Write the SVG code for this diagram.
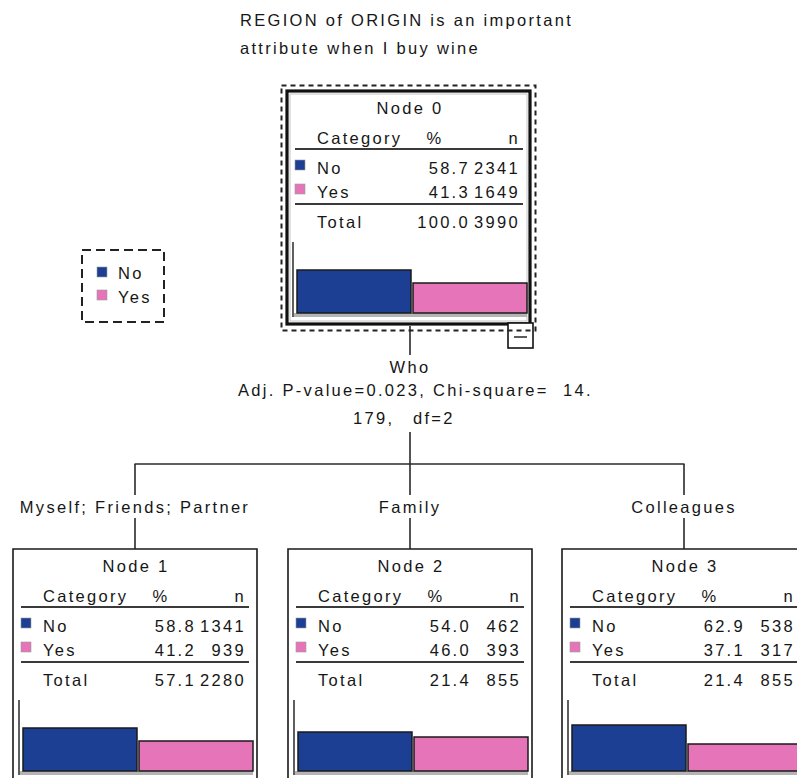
<svg xmlns="http://www.w3.org/2000/svg" width="797" height="778" viewBox="0 0 797 778">
  <style>
    text { font-family: "Liberation Sans", Arial, sans-serif; font-size: 16.5px; fill: #161616; letter-spacing: 2.3px; }
    .mid { text-anchor: middle; }
    .end { text-anchor: end; }
    .frame { fill: #ffffff; stroke: #1a1a1a; stroke-width: 1.6; }
    .rule { stroke: #3a3a3a; stroke-width: 2; }
    .axis { stroke: #2a2a2a; stroke-width: 1.5; }
    .shadow { fill: #b4b4b4; }
    .no { fill: #1c3f94; }
    .yes { fill: #e574b9; }
    .bar { stroke: #1a1a1a; stroke-width: 1.5; }
    .key { stroke: #9a9a9a; stroke-width: 0.6; }
    .conn { stroke: #2a2a2a; stroke-width: 1.6; fill: none; }
    .dash { fill: none; stroke: #222222; stroke-width: 2; stroke-dasharray: 5 4; }
  </style>

  <!-- target variable title -->
  <g id="title">
    <text x="240" y="26">REGION of ORIGIN is an important</text>
    <text x="240" y="54">attribute when I buy wine</text>
  </g>

  <!-- legend -->
  <g id="legend">
    <rect x="82" y="250" width="82" height="72" fill="none" stroke="#222" stroke-width="2" stroke-dasharray="9 5"/>
    <rect x="97" y="267" width="10" height="10" class="no key"/>
    <text x="118" y="279">No</text>
    <rect x="97" y="290" width="10" height="10" class="yes key"/>
    <text x="118" y="303">Yes</text>
  </g>

  <!-- connectors -->
  <g id="connectors">
    <line class="conn" x1="410" y1="326" x2="410" y2="355"/>
    <line class="conn" x1="410" y1="432" x2="410" y2="464"/>
    <line class="conn" x1="134.5" y1="464" x2="684.5" y2="464"/>
    <line class="conn" x1="135" y1="464" x2="135" y2="495"/>
    <line class="conn" x1="135" y1="518" x2="135" y2="549"/>
    <line class="conn" x1="410" y1="464" x2="410" y2="495"/>
    <line class="conn" x1="410" y1="518" x2="410" y2="549"/>
    <line class="conn" x1="684" y1="464" x2="684" y2="495"/>
    <line class="conn" x1="684" y1="518" x2="684" y2="549"/>
    <text x="410" y="373" class="mid">Who</text>
    <text x="238" y="396">Adj. P-value=0.023, Chi-square=</text>
    <text x="563" y="396">14.</text>
    <text x="353" y="424">179,</text>
    <text x="413" y="424">df=2</text>
    <text x="135" y="513" class="mid">Myself; Friends; Partner</text>
    <text x="410" y="513" class="mid">Family</text>
    <text x="684" y="513" class="mid">Colleagues</text>
  </g>

  <!-- root node (selected) -->
  <g id="node0" transform="translate(287,91)">
    <rect x="0" y="0" width="243" height="233" fill="#fff" stroke="#111" stroke-width="3.2"/>
    <rect x="3" y="3" width="237" height="227" fill="none" stroke="#c4c4c4" stroke-width="1"/>
    <text x="123" y="23" class="mid">Node 0</text>
    <text x="30" y="53">Category</text>
    <text x="148" y="53" class="mid">%</text>
    <text x="233" y="53" class="end">n</text>
    <line class="rule" x1="8" y1="58" x2="236" y2="58"/>
    <rect x="8" y="69" width="10" height="10" class="no key"/>
    <text x="30" y="83">No</text>
    <text x="183" y="83" class="end">58.7</text>
    <text x="233" y="83" class="end">2341</text>
    <rect x="8" y="93" width="10" height="10" class="yes key"/>
    <text x="30" y="107">Yes</text>
    <text x="183" y="107" class="end">41.3</text>
    <text x="233" y="107" class="end">1649</text>
    <line class="rule" x1="8" y1="113" x2="236" y2="113"/>
    <text x="30" y="137">Total</text>
    <text x="183" y="137" class="end">100.0</text>
    <text x="233" y="137" class="end">3990</text>
    <rect x="7" y="222" width="233" height="4" class="shadow"/>
    <line class="axis" x1="6" y1="151" x2="6" y2="226"/>
    <rect x="10" y="179" width="114" height="43" class="no bar"/>
    <rect x="126" y="192" width="114" height="30" class="yes bar"/>
  </g>
  <g id="node0-toggle">
    <rect x="508" y="323" width="25" height="25" fill="#fff" stroke="#111" stroke-width="1.6"/>
    <line x1="514" y1="337" x2="527" y2="337" stroke="#333" stroke-width="1.6"/>
    <rect x="281.5" y="85.5" width="254" height="245" class="dash"/>
  </g>

  <g id="node1" transform="translate(13,549)">
    <path d="M0 240 V0 H244 V240" class="frame"/>
    <text x="123" y="23" class="mid">Node 1</text>
    <text x="30" y="53">Category</text>
    <text x="148" y="53" class="mid">%</text>
    <text x="233" y="53" class="end">n</text>
    <line class="rule" x1="8" y1="58" x2="236" y2="58"/>
    <rect x="8" y="69" width="10" height="10" class="no key"/>
    <text x="30" y="83">No</text>
    <text x="183" y="83" class="end">58.8</text>
    <text x="233" y="83" class="end">1341</text>
    <rect x="8" y="93" width="10" height="10" class="yes key"/>
    <text x="30" y="107">Yes</text>
    <text x="183" y="107" class="end">41.2</text>
    <text x="233" y="107" class="end">939</text>
    <line class="rule" x1="8" y1="113" x2="236" y2="113"/>
    <text x="30" y="137">Total</text>
    <text x="183" y="137" class="end">57.1</text>
    <text x="233" y="137" class="end">2280</text>
    <rect x="7" y="222" width="233" height="4" class="shadow"/>
    <line class="axis" x1="6" y1="151" x2="6" y2="226"/>
    <rect x="10" y="179" width="114" height="43" class="no bar"/>
    <rect x="126" y="192" width="114" height="30" class="yes bar"/>
  </g>

  <g id="node2" transform="translate(288,549)">
    <path d="M0 240 V0 H244 V240" class="frame"/>
    <text x="123" y="23" class="mid">Node 2</text>
    <text x="30" y="53">Category</text>
    <text x="148" y="53" class="mid">%</text>
    <text x="233" y="53" class="end">n</text>
    <line class="rule" x1="8" y1="58" x2="236" y2="58"/>
    <rect x="8" y="69" width="10" height="10" class="no key"/>
    <text x="30" y="83">No</text>
    <text x="183" y="83" class="end">54.0</text>
    <text x="233" y="83" class="end">462</text>
    <rect x="8" y="93" width="10" height="10" class="yes key"/>
    <text x="30" y="107">Yes</text>
    <text x="183" y="107" class="end">46.0</text>
    <text x="233" y="107" class="end">393</text>
    <line class="rule" x1="8" y1="113" x2="236" y2="113"/>
    <text x="30" y="137">Total</text>
    <text x="183" y="137" class="end">21.4</text>
    <text x="233" y="137" class="end">855</text>
    <rect x="7" y="222" width="233" height="4" class="shadow"/>
    <line class="axis" x1="6" y1="151" x2="6" y2="226"/>
    <rect x="10" y="183" width="114" height="39" class="no bar"/>
    <rect x="126" y="188" width="114" height="34" class="yes bar"/>
  </g>

  <g id="node3" transform="translate(562,549)">
    <path d="M0 240 V0 H244 V240" class="frame"/>
    <text x="123" y="23" class="mid">Node 3</text>
    <text x="30" y="53">Category</text>
    <text x="148" y="53" class="mid">%</text>
    <text x="233" y="53" class="end">n</text>
    <line class="rule" x1="8" y1="58" x2="236" y2="58"/>
    <rect x="8" y="69" width="10" height="10" class="no key"/>
    <text x="30" y="83">No</text>
    <text x="183" y="83" class="end">62.9</text>
    <text x="233" y="83" class="end">538</text>
    <rect x="8" y="93" width="10" height="10" class="yes key"/>
    <text x="30" y="107">Yes</text>
    <text x="183" y="107" class="end">37.1</text>
    <text x="233" y="107" class="end">317</text>
    <line class="rule" x1="8" y1="113" x2="236" y2="113"/>
    <text x="30" y="137">Total</text>
    <text x="183" y="137" class="end">21.4</text>
    <text x="233" y="137" class="end">855</text>
    <rect x="7" y="222" width="233" height="4" class="shadow"/>
    <line class="axis" x1="6" y1="151" x2="6" y2="226"/>
    <rect x="10" y="176" width="114" height="46" class="no bar"/>
    <rect x="126" y="195" width="114" height="27" class="yes bar"/>
  </g>
</svg>
